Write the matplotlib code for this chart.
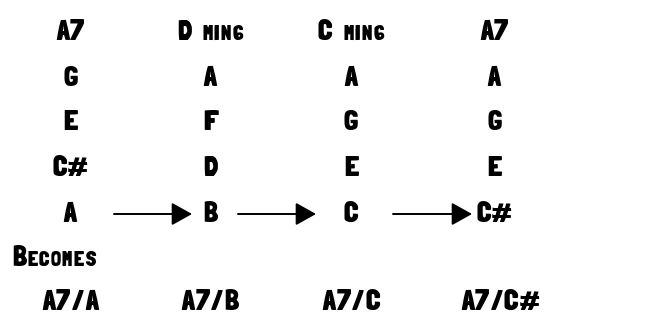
import matplotlib
matplotlib.use("Agg")
import matplotlib.pyplot as plt
from matplotlib.offsetbox import TextArea, HPacker, AnnotationBbox

# chord names on top, then notes top to bottom, bass note last
chords = ["A7", "D min6", "C min6", "A7"]
notes = [["G", "E", "C#", "A"],
         ["A", "F", "D", "B"],
         ["A", "G", "E", "C"],
         ["A", "G", "E", "C#"]]
result_label = "Becomes"
results = ["A7/A", "A7/B", "A7/C", "A7/C#"]

col_x = [70, 210, 351, 494]
row_y = [32, 78, 123, 169, 214]
res_y = 302

FONT = ["Londrina Solid", "DejaVu Sans"]
BIG = 21
SMALL = 15

fig = plt.figure(figsize=(6.47, 3.2), dpi=100)
ax = fig.add_axes([0, 0, 1, 1])
ax.set_xlim(0, 647)
ax.set_ylim(320, 0)
ax.axis("off")


def small_caps(ax, x, y, txt, ha=0.5):
    # capitals big, lowercase letters (and digits after them) as smaller capitals
    parts = []
    prev_small = False
    for ch in txt:
        small = ch.islower() or (ch.isdigit() and prev_small)
        prev_small = small
        if ch == " ":
            ch = "  "
            small = True
        parts.append(TextArea(ch.upper(), textprops=dict(fontsize=SMALL if small else BIG,
                                                         family=FONT, weight="bold")))
    box = HPacker(children=parts, align="baseline", pad=0, sep=1)
    ab = AnnotationBbox(box, (x, y), frameon=False, pad=0, box_alignment=(ha, 0.5))
    ax.add_artist(ab)


for i, name in enumerate(chords):
    small_caps(ax, col_x[i], row_y[0], name)
    for j, n in enumerate(notes[i]):
        small_caps(ax, col_x[i], row_y[j + 1], n)

# arrows between the bass notes
starts = [114, 238, 393]
ends = [192, 316, 472]
for s, e in zip(starts, ends):
    ax.annotate("", xy=(e, row_y[-1]), xytext=(s, row_y[-1]),
                arrowprops=dict(arrowstyle="-|>,head_length=1.25,head_width=0.7",
                                color="black", lw=1.4, shrinkA=0, shrinkB=0))

small_caps(ax, 12, 258, result_label, ha=0)

for i, r in enumerate(results):
    small_caps(ax, col_x[i] + (6 if i == 3 else 0), res_y, r)

fig.savefig("out.png", dpi=100, facecolor="white")
